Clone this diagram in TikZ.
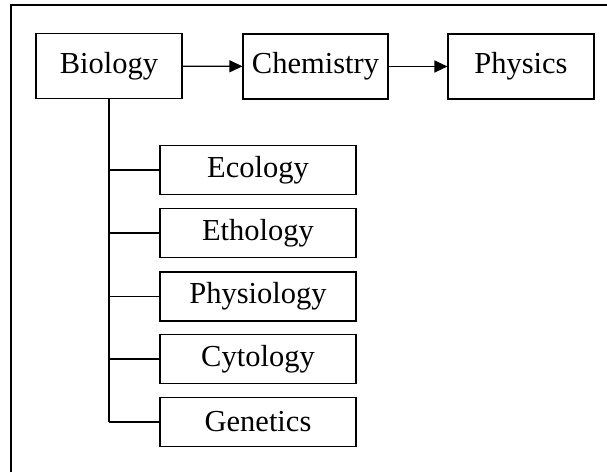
\documentclass[tikz,border=0pt]{standalone}
\usepackage{fontspec}
\setmainfont{Liberation Serif}
\usetikzlibrary{arrows.meta}
\begin{document}
\begin{tikzpicture}[x=1pt,y=-1pt,
  topbox/.style={draw,line width=1.1pt,inner sep=0pt,minimum height=65pt,font=\fontsize{30.5}{36}\selectfont},
  subbox/.style={draw,line width=1.1pt,inner sep=0pt,minimum width=196pt,minimum height=49pt,font=\fontsize{30.5}{36}\selectfont},
  link/.style={line width=1.2pt,-{Triangle[length=13pt,width=12pt]}},
  trunk/.style={line width=2pt},
  branch/.style={line width=1.2pt}]
\useasboundingbox (0,0) rectangle (607,472);
% frame (top and left edges)
\draw[line width=2pt] (11,472) -- (11,5) -- (607,5);
% top row
\node[topbox,minimum width=146pt] (bio) at (109,66) {Biology};
\node[topbox,minimum width=145pt] (chem) at (315.5,66.5) {Chemistry};
\node[topbox,minimum width=146pt] (phys) at (521,66.5) {Physics};
\draw[link] (bio) -- (chem);
\draw[link] (chem) -- (phys);
% subfields
\node[subbox] (eco) at (258,170) {Ecology};
\node[subbox] (eth) at (258,233) {Ethology};
\node[subbox] (physio) at (258,296.5) {Physiology};
\node[subbox] (cyto) at (258,359) {Cytology};
\node[subbox] (gen) at (258,422) {Genetics};
\coordinate (tend) at (109,422);
\draw[trunk] (bio.south) -- (tend);
\foreach \n in {eco,eth,physio,cyto,gen}
  \draw[branch] (\n.west) -- (\n.west -| bio.south);
\end{tikzpicture}
\end{document}
